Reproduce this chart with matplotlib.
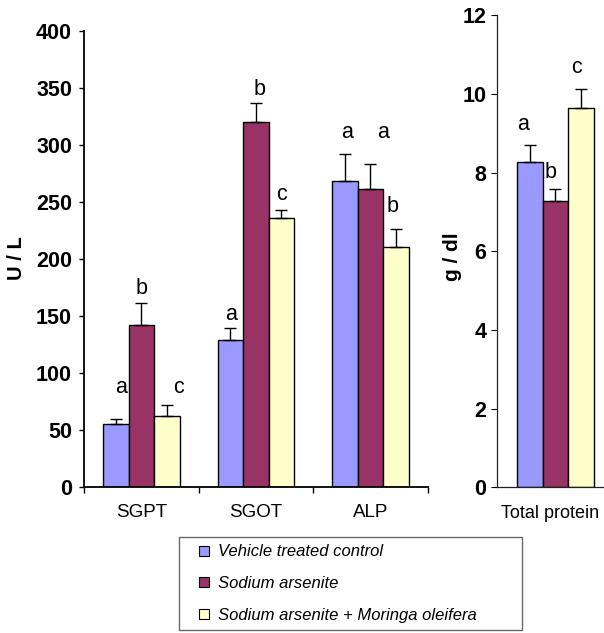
import numpy as np
import matplotlib
matplotlib.use("Agg")
import matplotlib.pyplot as plt
from matplotlib.lines import Line2D

plt.rcParams['font.family'] = ['Liberation Sans', 'DejaVu Sans']

# treatment groups
groups = ["Vehicle treated control", "Sodium arsenite",
          "Sodium arsenite + Moringa oleifera"]
colors = ["#9999FF", "#993366", "#FFFFCC"]

# liver enzymes (U / L), one row per group, columns follow enzymes
enzymes = ["SGPT", "SGOT", "ALP"]
enzyme_mean = [[55, 129, 268],
               [142, 320, 261],
               [62, 236, 210]]
enzyme_err = [[4, 10, 24],
              [19, 17, 22],
              [10, 7, 16]]
enzyme_letters = [["a", "a", "a"],
                  ["b", "b", "a"],
                  ["c", "c", "b"]]
enzyme_label_y = [[82, 146, 306],
                  [169, 344, 306],
                  [82, 252, 241]]
enzyme_label_dx = [[0.05, 0.01, 0.02],
                   [0.0, 0.03, 0.11],
                   [0.10, 0.0, -0.03]]

# total protein (g / dl)
protein = ["Total protein"]
protein_mean = [8.28, 7.27, 9.63]
protein_err = [0.43, 0.32, 0.49]
protein_letters = ["a", "b", "c"]
protein_label_y = [9.07, 7.85, 10.54]
protein_label_dx = [-0.06, -0.045, -0.035]

W, H = 604, 633
fig = plt.figure(figsize=(W / 100, H / 100), dpi=100)
ax1 = fig.add_axes([84 / W, 1 - 486.7 / H, 343.7 / W, 455.7 / H])
ax2 = fig.add_axes([497 / W, 1 - 487.3 / H, 107 / W, 472.1 / H])

bw = 0.2225
LETTER = 15.5
TICK = 15.5

# left panel
x = np.arange(len(enzymes))
for i in range(len(groups)):
    xi = x + (i - 1) * bw
    ax1.bar(xi, enzyme_mean[i], bw, color=colors[i], edgecolor="black",
            linewidth=1.0, zorder=2)
    ax1.errorbar(xi, enzyme_mean[i], yerr=[np.zeros(len(x)), enzyme_err[i]],
                 fmt="none", ecolor="black", elinewidth=1.0, capsize=4,
                 capthick=1.0, zorder=3)
    for j in range(len(x)):
        ax1.text(xi[j] + enzyme_label_dx[i][j], enzyme_label_y[i][j],
                 enzyme_letters[i][j], ha="center", va="baseline",
                 fontsize=LETTER)

ax1.set_xlim(-0.5, 2.5)
ax1.set_ylim(0, 400)
ax1.set_yticks(np.arange(0, 401, 50))
ax1.set_xticks([-0.5, 0.5, 1.5, 2.5])
ax1.set_xticklabels([])
ax1.set_xticks(x, minor=True)
ax1.set_xticklabels(enzymes, minor=True, fontsize=13.5)
ax1.tick_params(axis="x", which="major", direction="out", length=4.5, width=1)
ax1.tick_params(axis="x", which="minor", length=0, pad=12.5)
ax1.tick_params(axis="y", direction="out", length=3.6, width=1, pad=5)
for lab in ax1.get_yticklabels():
    lab.set_fontsize(TICK)
    lab.set_fontweight("bold")
for s in ["top", "right"]:
    ax1.spines[s].set_visible(False)
for s in ["left", "bottom"]:
    ax1.spines[s].set_linewidth(1.3)
ax1.text((16 - 84) / 343.7, (486.7 - 258) / 455.7, "U / L", transform=ax1.transAxes,
         rotation=90, ha="center", va="center", fontsize=14.5, fontweight="bold")

# right panel
for i in range(len(groups)):
    xi = (i - 1) * bw
    ax2.bar([xi], [protein_mean[i]], bw, color=colors[i], edgecolor="black",
            linewidth=1.0, zorder=2)
    ax2.errorbar([xi], [protein_mean[i]], yerr=[[0], [protein_err[i]]],
                 fmt="none", ecolor="black", elinewidth=1.0, capsize=4,
                 capthick=1.0, zorder=3)
    ax2.text(xi + protein_label_dx[i], protein_label_y[i], protein_letters[i],
             ha="center", va="baseline", fontsize=LETTER)

ax2.set_xlim(-0.51, -0.51 + 107 / 114.6)
ax2.set_ylim(0, 12)
ax2.set_yticks(np.arange(0, 13, 2))
ax2.set_xticks([-0.047])
ax2.set_xticklabels(protein, fontsize=13)
ax2.tick_params(axis="x", length=0, pad=12.5)
ax2.tick_params(axis="y", direction="out", length=4.3, width=0.8, pad=3.5)
for lab in ax2.get_yticklabels():
    lab.set_fontsize(TICK)
    lab.set_fontweight("bold")
for s in ["top", "right"]:
    ax2.spines[s].set_visible(False)
for s in ["left", "bottom"]:
    ax2.spines[s].set_linewidth(0.9)
    ax2.spines[s].set_color("#222222")
ax2.text((452 - 497) / 107, (487.3 - 257) / 472.1, "g / dl",
         transform=ax2.transAxes, rotation=90, ha="center", va="center",
         fontsize=15, fontweight="bold")

# legend
handles = [Line2D([], [], linestyle="none", marker="s", markersize=6.5,
                  markerfacecolor=c, markeredgecolor="black",
                  markeredgewidth=0.8) for c in colors]
leg = fig.legend(handles, groups, loc="upper left",
                 bbox_to_anchor=(179 / W, 1 - 537 / H, 343 / W, 0),
                 mode="expand", borderaxespad=0, borderpad=0.45,
                 labelspacing=1.0, handlelength=2.1, handletextpad=-0.2,
                 fancybox=False, prop={"style": "italic", "size": 12})
leg.get_frame().set_edgecolor("#444444")
leg.get_frame().set_linewidth(1.0)

fig.savefig("out.png", dpi=100)
